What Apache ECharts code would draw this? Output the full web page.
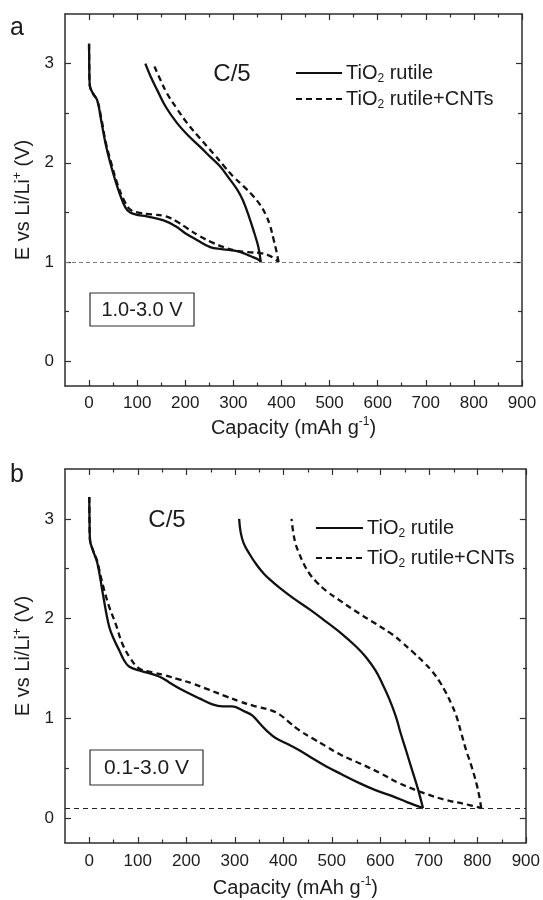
<!DOCTYPE html>
<html><head><meta charset="utf-8">
<script src="https://cdn.jsdelivr.net/npm/echarts@6/dist/echarts.min.js"></script>
<style>html,body{margin:0;padding:0;background:#fff}#c{width:543px;height:900px}</style>
</head><body><div id="c"></div>
<script>
// ---------- Panel a (1.0-3.0 V) ----------
const capA_rutile_dis = [0, 0.5, 1.5, 8, 17, 24, 34, 44, 56, 69, 80, 96, 120, 155, 180, 200, 225, 252, 275, 294, 315, 335, 350, 357];
const vA_rutile_dis   = [3.2, 2.95, 2.78, 2.7, 2.63, 2.46, 2.2, 2.0, 1.8, 1.62, 1.52, 1.48, 1.46, 1.42, 1.36, 1.29, 1.22, 1.15, 1.13, 1.12, 1.1, 1.06, 1.03, 1.0];
const capA_rutile_ch  = [357, 352, 343, 333, 320, 308, 290, 273, 252, 231, 205, 183, 160, 142, 128, 117];
const vA_rutile_ch    = [1.0, 1.15, 1.3, 1.45, 1.62, 1.73, 1.85, 1.96, 2.06, 2.16, 2.28, 2.4, 2.56, 2.73, 2.87, 3.0];
const capA_cnt_dis = [0, 0.5, 1.5, 8, 17, 25, 35, 46, 58, 72, 85, 100, 130, 160, 185, 204, 230, 259, 280, 301, 330, 356, 372, 384, 394];
const vA_cnt_dis   = [3.2, 2.95, 2.78, 2.7, 2.63, 2.46, 2.2, 2.0, 1.8, 1.63, 1.53, 1.5, 1.48, 1.46, 1.4, 1.34, 1.26, 1.19, 1.15, 1.12, 1.1, 1.09, 1.07, 1.04, 1.0];
const capA_cnt_ch  = [394, 389, 384, 376, 367, 355, 342, 322, 300, 280, 259, 230, 204, 182, 162, 148, 136];
const vA_cnt_ch    = [1.0, 1.12, 1.22, 1.37, 1.48, 1.58, 1.66, 1.76, 1.86, 1.97, 2.09, 2.25, 2.4, 2.55, 2.7, 2.84, 2.97];
const cutoffA = 1.0;

// ---------- Panel b (0.1-3.0 V) ----------
const capB_rutile_dis = [0, 0.5, 1.5, 8, 17, 28, 41, 52, 62, 72, 82, 103, 144, 165, 186, 227, 254, 275, 295, 320, 336, 351, 365, 385, 410, 433, 460, 488, 520, 557, 590, 625, 655, 688];
const vB_rutile_dis   = [3.22, 3.0, 2.79, 2.68, 2.55, 2.25, 1.92, 1.78, 1.68, 1.58, 1.52, 1.48, 1.42, 1.36, 1.3, 1.2, 1.14, 1.12, 1.12, 1.07, 1.03, 0.95, 0.88, 0.8, 0.74, 0.68, 0.6, 0.52, 0.44, 0.35, 0.28, 0.22, 0.16, 0.1];
const capB_rutile_ch  = [688, 680, 674, 663, 653, 642, 632, 618, 604, 590, 571, 550, 520, 488, 455, 419, 392, 375, 360, 345, 330, 318, 312, 309];
const vB_rutile_ch    = [0.1, 0.25, 0.35, 0.52, 0.68, 0.85, 1.02, 1.2, 1.35, 1.48, 1.61, 1.72, 1.85, 1.97, 2.09, 2.21, 2.31, 2.38, 2.45, 2.54, 2.65, 2.76, 2.87, 3.0];
const capB_cnt_dis = [0, 0.5, 1.5, 8, 17, 21, 30, 41, 55, 68, 85, 103, 130, 157, 185, 212, 245, 282, 310, 336, 351, 375, 392, 410, 433, 460, 488, 520, 557, 600, 639, 690, 736, 775, 808];
const vB_cnt_dis   = [3.22, 3.0, 2.79, 2.68, 2.57, 2.48, 2.3, 2.12, 1.94, 1.75, 1.6, 1.5, 1.46, 1.43, 1.39, 1.35, 1.29, 1.22, 1.17, 1.13, 1.11, 1.08, 1.04, 0.97, 0.88, 0.8, 0.72, 0.63, 0.55, 0.45, 0.35, 0.25, 0.18, 0.14, 0.1];
const capB_cnt_ch  = [808, 804, 798, 788, 777, 767, 757, 746, 735, 722, 707, 690, 666, 645, 625, 590, 557, 520, 488, 468, 454, 442, 433, 426, 421, 417];
const vB_cnt_ch    = [0.1, 0.22, 0.35, 0.52, 0.68, 0.85, 1.02, 1.15, 1.26, 1.37, 1.47, 1.56, 1.67, 1.76, 1.84, 1.95, 2.05, 2.17, 2.28, 2.37, 2.45, 2.55, 2.65, 2.74, 2.85, 3.0];
const cutoffB = 0.1;

// ---------- ticks ----------
const xMajor = [0, 100, 200, 300, 400, 500, 600, 700, 800, 900];
const xMinor = [50, 150, 250, 350, 450, 550, 650, 750, 850];
const yMajor = [0, 1, 2, 3];
const yMinor = [0.5, 1.5, 2.5];
const seriesNames = ['TiO2 rutile', 'TiO2 rutile+CNTs'];

const FONT = "'Liberation Sans', Arial, Helvetica, sans-serif";
const TXT = '#1c1c1c';
const AX = '#2e2e2e';
const rich = {
  n: {fontSize: 20, lineHeight: 24, fontFamily: FONT, color: TXT},
  sup: {fontSize: 12, lineHeight: 12, verticalAlign: 'top', fontFamily: FONT, color: TXT},
  sub: {fontSize: 12, lineHeight: 12, verticalAlign: 'bottom', fontFamily: FONT, color: TXT}
};
const pts = (c, v) => c.map((x, i) => [x, v[i]]);

const grids = [
  {left: 65, top: 14, width: 457, height: 372},
  {left: 65, top: 14, width: 457, height: 372},
  {left: 65, top: 469, width: 462, height: 374},
  {left: 65, top: 469, width: 462, height: 374}
];

function xAx(grid, pos, major, withLabel, gap, margin) {
  return {
    type: 'value', gridIndex: grid, position: pos, min: -50, max: 900,
    axisLine: {show: major, onZero: false, lineStyle: {color: AX, width: 1.5}},
    axisTick: {show: true, inside: true, length: major ? 6 : 3.5, customValues: major ? xMajor : xMinor, lineStyle: {color: AX, width: 1.2}},
    axisLabel: {show: withLabel, customValues: xMajor, margin: margin, fontSize: 17, color: TXT, fontFamily: FONT},
    splitLine: {show: false},
    name: withLabel ? '{n|Capacity (mAh g}{sup|-1}{n|)}' : '',
    nameLocation: 'middle', nameGap: gap, nameTextStyle: {rich: rich}
  };
}
function yAx(grid, pos, major, withLabel) {
  return {
    type: 'value', gridIndex: grid, position: pos, min: -0.25, max: 3.5,
    axisLine: {show: major, onZero: false, lineStyle: {color: AX, width: 1.5}},
    axisTick: {show: true, inside: true, length: major ? 6 : 4, customValues: major ? yMajor : yMinor, lineStyle: {color: AX, width: 1.2}},
    axisLabel: {show: withLabel, customValues: yMajor, margin: 11, fontSize: 17, color: TXT, fontFamily: FONT},
    splitLine: {show: false},
    name: withLabel ? '{n|E vs Li/Li}{sup|+}{n| (V)}' : '',
    nameLocation: 'middle', nameGap: 28, nameTextStyle: {rich: rich}
  };
}

const xAxis = [
  xAx(0, 'bottom', true, true, 30, 9), xAx(0, 'top', true, false),
  xAx(1, 'bottom', false, false), xAx(1, 'top', false, false),
  xAx(2, 'bottom', true, true, 33, 10), xAx(2, 'top', true, false),
  xAx(3, 'bottom', false, false), xAx(3, 'top', false, false)
];
const yAxis = [
  yAx(0, 'left', true, true), yAx(0, 'right', true, false),
  yAx(1, 'left', false, false), yAx(1, 'right', false, false),
  yAx(2, 'left', true, true), yAx(2, 'right', true, false),
  yAx(3, 'left', false, false), yAx(3, 'right', false, false)
];

function curve(name, data, axisIdx, dashed, cutoff, cutColor, cutDash) {
  const s = {
    type: 'line', name: name, data: data, xAxisIndex: axisIdx, yAxisIndex: axisIdx,
    symbol: 'none', smooth: 0.4, animation: false, silent: true,
    lineStyle: {color: '#111', width: 2.3, type: dashed ? [6, 4] : 'solid', join: 'round', cap: 'butt'},
    itemStyle: {color: '#111'}
  };
  if (cutoff !== undefined) {
    s.markLine = {
      silent: true, symbol: 'none', animation: false, label: {show: false},
      lineStyle: {color: cutColor, width: 1.1, type: cutDash},
      data: [{yAxis: cutoff}]
    };
  }
  return s;
}

const series = [
  curve(seriesNames[0], pts(capA_rutile_dis, vA_rutile_dis), 0, false, cutoffA, '#7a7a7a', [4, 3]),
  curve(seriesNames[0], pts(capA_rutile_ch, vA_rutile_ch), 0, false),
  curve(seriesNames[1], pts(capA_cnt_dis, vA_cnt_dis), 0, true),
  curve(seriesNames[1], pts(capA_cnt_ch, vA_cnt_ch), 0, true),
  curve(seriesNames[0], pts(capB_rutile_dis, vB_rutile_dis), 4, false, cutoffB, '#222', [5, 4]),
  curve(seriesNames[0], pts(capB_rutile_ch, vB_rutile_ch), 4, false),
  curve(seriesNames[1], pts(capB_cnt_dis, vB_cnt_dis), 4, true),
  curve(seriesNames[1], pts(capB_cnt_ch, vB_cnt_ch), 4, true)
];

const legFmt = name => '{n|TiO}{sub|2}{n|' + name.replace('TiO2', '') + '}';
const legendBase = {
  orient: 'vertical', data: seriesNames, formatter: legFmt, padding: 0,
  itemHeight: 12, selectedMode: false,
  itemStyle: {color: 'rgba(0,0,0,0)', borderColor: 'rgba(0,0,0,0)', borderWidth: 0, opacity: 0},
  textStyle: {rich: rich, padding: [0, 0, 0, -1]}
};
const legend = [
  Object.assign({}, legendBase, {left: 295, top: 63, itemWidth: 46, itemGap: 4}),
  Object.assign({}, legendBase, {left: 315, top: 518, itemWidth: 47, itemGap: 8})
];

function txt(x, y, text, size) {
  return {type: 'text', x: x, y: y, silent: true,
    style: {text: text, font: size + 'px ' + FONT, fill: TXT, align: 'center', verticalAlign: 'middle', textAlign: 'center', textVerticalAlign: 'middle'}};
}
function box(x, y, w, h) {
  return {type: 'rect', silent: true, shape: {x: x, y: y, width: w, height: h},
    style: {fill: 'none', stroke: AX, lineWidth: 1.2}};
}
const graphic = [
  txt(17, 28, 'a', 25), txt(17, 475, 'b', 25),
  txt(232, 74, 'C/5', 24), txt(167, 520, 'C/5', 24),
  box(90, 293, 104, 33), txt(142, 310, '1.0-3.0 V', 20),
  box(90, 750, 113, 35), txt(146.5, 768, '0.1-3.0 V', 21)
];

const chart = echarts.init(document.getElementById('c'), null, {renderer: 'canvas'});
chart.setOption({
  animation: false, backgroundColor: '#fff',
  textStyle: {fontFamily: FONT},
  grid: grids, xAxis: xAxis, yAxis: yAxis, series: series, legend: legend, graphic: graphic
});
</script></body></html>
